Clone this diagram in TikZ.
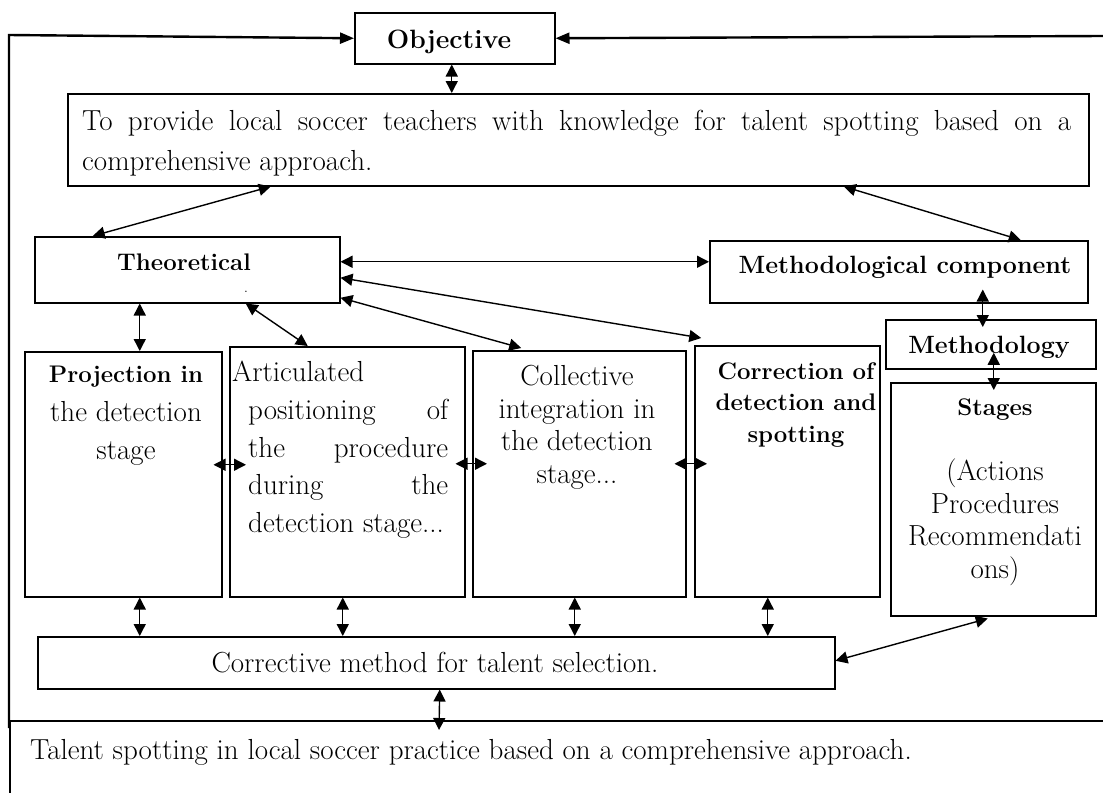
\documentclass[tikz,border=0pt]{standalone}
\usetikzlibrary{arrows.meta}

\tikzset{
  blockbox/.style={draw, line width=1.5pt, inner sep=0pt, anchor=north west},
  linkarrow/.style={line width=1.4pt, {Triangle[length=12pt,width=12pt]}-{Triangle[length=12pt,width=12pt]}},
  frameline/.style={line width=2.4pt},
  plaintext/.style={inner sep=0pt, font=\fontsize{29}{33}\selectfont},
  boldtext/.style={inner sep=0pt, font=\fontsize{24}{31.5}\selectfont\bfseries},
}

\begin{document}
\begin{tikzpicture}[x=1pt,y=-1pt]
% \clip (0,0) rectangle (1103,793);
\useasboundingbox (0,0) rectangle (1103,793);

% Drawing box Objective
\node[blockbox, minimum width=200, minimum height=51] (obj) at (354,12) {};
\node[boldtext, anchor=base, font=\fontsize{26.5}{31}\selectfont\bfseries] (objtxt) at (449,48) {Objective};

% Drawing box aim
\node[blockbox, minimum width=1021, minimum height=92] (aim) at (67,93) {};
\node[plaintext, anchor=north west, text width=989pt, align=justify, font=\fontsize{29}{40}\selectfont] (aimtxt) at (82,110)
  {To provide local soccer teachers with knowledge for talent spotting based on a\linebreak comprehensive approach.};

% Drawing box Theoretical
\node[blockbox, minimum width=305, minimum height=66] (theo) at (34,236) {};
\node[boldtext, anchor=base] (theotxt) at (184,270) {Theoretical};
\node[inner sep=0pt, anchor=base, font=\fontsize{14}{14}\selectfont] (theodot) at (246,292) {.};

% Drawing box Methodological component
\node[blockbox, minimum width=378, minimum height=62] (meth) at (709,240) {};
\node[boldtext, anchor=base, font=\fontsize{25}{31}\selectfont\bfseries] (methtxt) at (905,273) {Methodological component};

% Drawing box Methodology
\node[blockbox, minimum width=210, minimum height=49] (methy) at (885,319) {};
\node[boldtext, anchor=base, font=\fontsize{25}{31}\selectfont\bfseries] (methytxt) at (989,353) {Methodology};

% Drawing box Projection
\node[blockbox, minimum width=197, minimum height=245] (proj) at (24,351) {};
\node[plaintext, anchor=north, align=center, font=\fontsize{29}{38.5}\selectfont] (projtxt) at (126,366)
  {{\fontsize{24}{38.5}\selectfont\bfseries Projection in}\\the detection\\stage};

% Drawing box Articulated
\node[blockbox, minimum width=235, minimum height=250] (art) at (229,346) {};
\node[plaintext, anchor=north west, align=left, font=\fontsize{29}{37.75}\selectfont] (arttxt) at (232,361)
  {Articulated\\
   \hspace*{16pt}\makebox[200pt][s]{positioning of}\\
   \hspace*{16pt}\makebox[200pt][s]{the procedure}\\
   \hspace*{16pt}\makebox[200pt][s]{during the}\\
   \hspace*{16pt}detection stage...};

% Drawing box Collective
\node[blockbox, minimum width=213, minimum height=246] (coll) at (472,350) {};
\node[plaintext, anchor=north, align=center, font=\fontsize{29}{32.7}\selectfont] (colltxt) at (577,365)
  {Collective\\integration in\\the detection\\stage...};

% Drawing box Correction
\node[blockbox, minimum width=185, minimum height=251] (corr) at (694,345) {};
\node[boldtext, anchor=north, align=center] (corrtxt) at (796,362)
  {Correction of\\detection and\\spotting};

% Drawing box Stages
\node[blockbox, minimum width=205, minimum height=233] (stg) at (890,382) {};
\node[plaintext, anchor=north, align=center, font=\fontsize{29}{32.6}\selectfont] (stgtxt) at (995,398.5)
  {{\fontsize{24}{32.6}\selectfont\bfseries Stages}\\[32.6pt](Actions\\Procedures\\Recommendati\\ons)};

% Drawing box Corrective method
\node[blockbox, minimum width=797, minimum height=52] (cor) at (37,636) {};
\node[plaintext, anchor=base] (cortxt) at (435,672) {Corrective method for talent selection.};

% Marking text Talent spotting
\node[plaintext, anchor=base west] (talenttxt) at (30,759)
  {Talent spotting in local soccer practice based on a comprehensive approach.};

% Frame coordinates
\coordinate (frametop) at (9,35);
\coordinate (framebot) at (9,728);
\coordinate (frameright) at (1103,36);
\coordinate (baseleft) at (10,721);
\coordinate (baseright) at (1103,721);
\coordinate (pageend) at (10,793);
\coordinate (talentarrow) at (439,730);

% Drawing frame lines
\draw[frameline, -{Triangle[length=14pt,width=11pt]}] (framebot) -- (frametop) -- (obj.west);
\draw[frameline, -{Triangle[length=14pt,width=11pt]}] (frameright) -- (obj.east);
\draw[line width=1.5pt] (baseright) -- (baseleft);
\draw[line width=1.1pt] (baseleft) -- (pageend);

% Drawing arrows from the top
\draw[linkarrow] ([xshift=-3pt]obj.south) -- ([xshift=-3pt]obj.south |- aim.north);
\draw[linkarrow] ([xshift=-307.5pt]aim.south) -- ([xshift=-94.5pt]theo.north);
\draw[linkarrow] ([xshift=265.5pt]aim.south) -- ([xshift=122pt]meth.north);

% Drawing arrows from Theoretical
\draw[linkarrow] ([yshift=8pt]theo.east) -- ([yshift=8pt]theo.east -| meth.west);
\draw[linkarrow] ([yshift=-8pt]theo.east) -- ([xshift=-86pt,yshift=7pt]corr.north);
\draw[linkarrow] ([yshift=-28pt]theo.east) -- ([xshift=-58pt,yshift=2pt]coll.north);
\draw[linkarrow] ([xshift=58.5pt]theo.south) -- ([xshift=-39.5pt]art.north);
\draw[linkarrow] ([xshift=16.5pt]proj.north |- theo.south) -- ([xshift=16.5pt]proj.north);

% Drawing arrows between the columns
\draw[linkarrow] ([xshift=-9pt,yshift=9.5pt]proj.east) -- ([xshift=17pt,yshift=7pt]art.west);
\draw[linkarrow] ([xshift=-10pt,yshift=8pt]art.east) -- ([xshift=15pt,yshift=10pt]coll.west);
\draw[linkarrow] ([xshift=-12pt,yshift=10pt]coll.east) -- ([xshift=13pt,yshift=7.5pt]corr.west);

% Drawing arrows on the methodological side
\draw[linkarrow] ([xshift=84pt,yshift=14pt]meth.south) -- ([xshift=-8pt,yshift=-8pt]methy.north);
\draw[linkarrow] ([xshift=3pt,yshift=-8.5pt]methy.center) -- ([xshift=0.5pt,yshift=-8pt]stg.north);

% Drawing arrows to Corrective method
\draw[linkarrow] ([xshift=16.5pt]proj.south) -- ([xshift=16.5pt]proj.south |- cor.north);
\draw[linkarrow] ([xshift=-4.5pt]art.south) -- ([xshift=-4.5pt]art.south |- cor.north);
\draw[linkarrow] ([xshift=-4.5pt]coll.south) -- ([xshift=-4.5pt]coll.south |- cor.north);
\draw[linkarrow] ([xshift=-19.5pt]corr.south) -- ([xshift=-19.5pt]corr.south |- cor.north);
\draw[linkarrow] ([yshift=2pt]cor.east) -- ([xshift=-5.5pt,yshift=-2pt]stg.south);
\draw[linkarrow] ([xshift=3.5pt]cor.south) -- (talentarrow);
\end{tikzpicture}
\end{document}
